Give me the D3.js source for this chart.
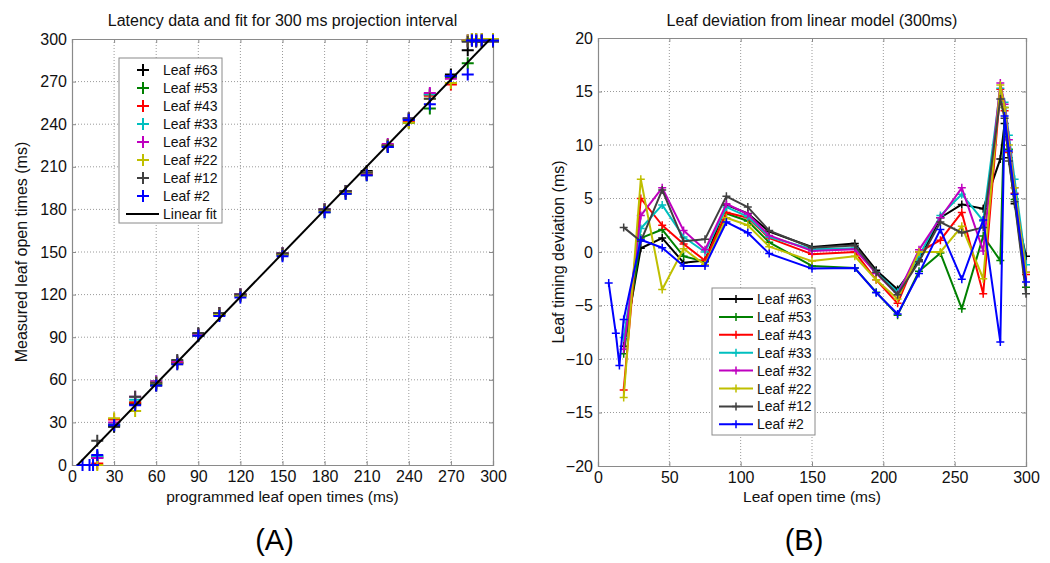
<!DOCTYPE html>
<html><head><meta charset="utf-8">
<script src="https://cdn.jsdelivr.net/npm/d3@7/dist/d3.min.js"></script>
<style>
body{margin:0;background:#fff}
svg{font-family:"Liberation Sans",Arial,Helvetica,sans-serif}
</style></head>
<body>
<svg id="chart" width="1050" height="563"></svg>
<script>
// ---------- DATA ----------
const leafNames = ["Leaf #63","Leaf #53","Leaf #43","Leaf #33","Leaf #32","Leaf #22","Leaf #12","Leaf #2"];
const leafColors = ["#000000","#008000","#ff0000","#00bfbf","#bf00bf","#bfbf00","#404040","#0000ff"];

// programmed leaf open times (ms)
const xTimes = [18,30,45,60,75,90,105,120,150,180,195,210,225,240,255,270,282,285,288,292,300];
const xTimesLeaf2 = [7.5,12.5,15,18,30,45,60,75,90,105,120,150,180,195,210,225,240,255,270,282,285,288,292,300];

// Panel A: measured leaf open times (ms)
const measured63 = [6,27,43,56,72,92,107,120,149,180,193,207,225,244,261,275,292,299,299,298,300];
const measured53 = [5,28,44,57,72,91,106,119,148,178,191,204,224,241,251,273,283,300,299,299,299];
const measured43 = [1,32,44,58,72,92,106,120,149,180,192,205,225,242,260,268,299,300,299,299,300];
const measured33 = [6,29,46,59,73,92,106,120,149,180,193,206,225,244,261,274,299,300,300,300,300];
const measured32 = [5,30,48,59,73,92,107,120,149,180,193,206,226,244,262,272,299,300,300,300,300];
const measured22 = [0,33,38,58,71,91,106,119,148,179,192,206,225,241,258,269,299,300,300,300,300];
const measured12 = [17,28,48,58,74,93,107,120,149,180,193,206,225,244,258,274,298,299,298,299,298];
const measured2  = [0,0,0,7,28,42,56,71,91,105,118,147,178,191,204,224,243,254,274,275,299,299,299,299];

// linear fit (measured = slope * programmed + intercept)
const fitSlope = 1.02;
const fitIntercept = -4;

// Panel B: leaf timing deviation from linear model (ms)
const dev63 = [-8.8,0.35,1.3,-1.0,-0.8,4.4,3.6,1.9,0.47,0.8,-1.7,-3.5,-0.75,3.2,4.45,4.05,8.7,12.0,8.8,4.5,-0.4];
const dev53 = [-9.5,1.3,2.1,-0.4,-0.9,3.6,2.9,0.9,-1.3,-1.5,-3.75,-5.9,-1.8,-0.1,-5.3,1.5,-0.8,13.5,9.6,4.9,-3.3];
const dev43 = [-12.9,5.0,2.5,0.75,-0.8,3.7,3.2,1.3,-0.2,0,-2.6,-4.8,0,1.1,3.7,-3.9,15.2,13.2,9.3,5.5,-2.1];
const dev33 = [-8.0,2.2,4.4,1.4,0,4.2,3.3,1.4,0.25,0.35,-1.9,-3.75,-0.4,3.4,5.4,2.9,15.3,14.0,10.9,6.8,-1.2];
const dev32 = [-9.1,3.4,6.0,2.0,0.2,4.5,3.55,1.55,0.1,0.25,-2.0,-4.0,0.2,3.2,6.0,0.1,15.8,13.8,10.5,6.0,-1.9];
const dev22 = [-13.6,6.8,-3.5,0.3,-1.2,3.2,2.5,0.5,-0.85,-0.4,-2.6,-4.4,0,0,2.4,-2.5,15.6,13.5,10.0,6.0,-1.9];
const dev12 = [2.3,1.0,5.8,1.0,1.2,5.2,4.2,2.0,0.4,0.6,-1.9,-4.0,-0.9,2.8,1.8,2.3,14.3,12.5,8.5,4.7,-3.9];
const dev2  = [-2.9,-7.6,-10.6,-6.3,1.15,0.4,-1.3,-1.3,2.8,1.8,-0.15,-1.55,-1.5,-3.8,-5.8,-2.0,2.1,-2.55,3.0,-8.4,12.7,9.45,5.4,-2.8];

// tick labels
const ticksA_x = [0,30,60,90,120,150,180,210,240,270,300];
const ticksA_y = [0,30,60,90,120,150,180,210,240,270,300];
const ticksB_x = [0,50,100,150,200,250,300];
const ticksB_y = [-20,-15,-10,-5,0,5,10,15,20];

const titleA = "Latency data and fit for 300 ms projection interval";
const titleB = "Leaf deviation from linear model (300ms)";
const xLabelA = "programmed leaf open times (ms)";
const yLabelA = "Measured leaf open times (ms)";
const xLabelB = "Leaf open time (ms)";
const yLabelB = "Leaf timing deviation (ms)";

// ---------- BUILD ----------
const measuredSets = [measured63,measured53,measured43,measured33,measured32,measured22,measured12,measured2];
const devSets = [dev63,dev53,dev43,dev33,dev32,dev22,dev12,dev2];
const seriesA = leafNames.map((n,i)=>({name:n,color:leafColors[i],
  pts:(i===7?xTimesLeaf2:xTimes).map((x,j)=>[x,measuredSets[i][j]])}));
const seriesB = leafNames.map((n,i)=>({name:n,color:leafColors[i],
  pts:(i===7?xTimesLeaf2:xTimes).map((x,j)=>[x,devSets[i][j]])}));

const svg = d3.select("#chart");
const AX = "#8a8a8a", GRID = "#9a9a9a";

function panel(cfg){
  const g = svg.append("g");
  const x = d3.scaleLinear().domain(cfg.xd).range([cfg.l,cfg.r]);
  const y = d3.scaleLinear().domain(cfg.yd).range([cfg.b,cfg.t]);
  // grid
  g.append("g").selectAll("line").data(cfg.xt.slice(1,-1)).join("line")
    .attr("x1",d=>x(d)).attr("x2",d=>x(d)).attr("y1",cfg.t).attr("y2",cfg.b)
    .attr("stroke",GRID).attr("stroke-width",1).attr("stroke-dasharray","1,2");
  g.append("g").selectAll("line").data(cfg.yt.slice(1,-1)).join("line")
    .attr("y1",d=>y(d)).attr("y2",d=>y(d)).attr("x1",cfg.l).attr("x2",cfg.r)
    .attr("stroke",GRID).attr("stroke-width",1).attr("stroke-dasharray","1,2");
  // axes
  const xa = g.append("g").attr("transform",`translate(0,${cfg.b})`)
    .call(d3.axisBottom(x).tickValues(cfg.xt).tickSize(-4).tickPadding(6).tickFormat(d3.format("d")));
  const ya = g.append("g").attr("transform",`translate(${cfg.l},0)`)
    .call(d3.axisLeft(y).tickValues(cfg.yt).tickSize(-4).tickPadding(cfg.ypad).tickFormat(d3.format("d")));
  g.append("g").attr("transform",`translate(0,${cfg.t})`)
    .call(d3.axisTop(x).tickValues(cfg.xt).tickSize(-4).tickFormat(""));
  g.append("g").attr("transform",`translate(${cfg.r},0)`)
    .call(d3.axisRight(y).tickValues(cfg.yt).tickSize(-4).tickFormat(""));
  g.selectAll(".domain").attr("stroke",AX).attr("stroke-width",1.2);
  g.selectAll(".tick line").attr("stroke",AX);
  [xa,ya].forEach(a=>a.selectAll("text").attr("font-size",16).attr("fill","#111")
    .attr("font-family",'"Liberation Sans",Arial,sans-serif'));
  xa.selectAll("text").attr("dy","0.71em");
  // titles & labels
  g.append("text").attr("x",(cfg.l+cfg.r)/2).attr("y",26).attr("text-anchor","middle")
    .attr("font-size",16).attr("fill","#111").text(cfg.title);
  g.append("text").attr("x",(cfg.l+cfg.r)/2).attr("y",502).attr("text-anchor","middle")
    .attr("font-size",15.5).attr("fill","#111").text(cfg.xl);
  g.append("text").attr("transform",`translate(${cfg.ylx},${(cfg.t+cfg.b)/2}) rotate(-90)`)
    .attr("text-anchor","middle").attr("font-size",16).attr("fill","#111").text(cfg.yl);
  g.append("text").attr("x",(cfg.l+cfg.r)/2 - 8).attr("y",550).attr("text-anchor","middle")
    .attr("font-size",29).attr("fill","#000").text(cfg.tag);
  return {g,x,y};
}

const plus = s => `M${-s},0H${s}M0,${-s}V${s}`;

// ---- Panel A ----
const A = panel({l:72,r:493,t:39,b:465,xd:[0,300],yd:[0,300],xt:ticksA_x,yt:ticksA_y,
  title:titleA,xl:xLabelA,yl:yLabelA,ylx:27,ypad:5,tag:"(A)"});
svg.append("clipPath").attr("id","clipA").append("rect")
  .attr("x",72).attr("y",39).attr("width",421).attr("height",426);
seriesA.forEach(s=>{
  A.g.append("g").selectAll("path").data(s.pts).join("path")
    .attr("d",plus(6)).attr("transform",d=>`translate(${A.x(d[0])},${A.y(d[1])})`)
    .attr("stroke",s.color).attr("stroke-width",2).attr("fill","none");
});
A.g.append("line").attr("clip-path","url(#clipA)")
  .attr("x1",A.x(0)).attr("y1",A.y(fitIntercept))
  .attr("x2",A.x(300)).attr("y2",A.y(fitSlope*300+fitIntercept))
  .attr("stroke","#000").attr("stroke-width",2);
// legend A
const lgA = A.g.append("g");
lgA.append("rect").attr("x",119).attr("y",58).attr("width",103).attr("height",165)
  .attr("fill","#fff").attr("stroke","#8a8a8a").attr("stroke-width",1);
leafNames.forEach((n,i)=>{
  const yy = 70 + i*18;
  lgA.append("path").attr("d",plus(6)).attr("transform",`translate(143,${yy})`)
    .attr("stroke",leafColors[i]).attr("stroke-width",2).attr("fill","none");
  lgA.append("text").attr("x",163).attr("y",yy+5).attr("font-size",14).attr("fill","#111").text(n);
});
lgA.append("line").attr("x1",126).attr("x2",159).attr("y1",214).attr("y2",214)
  .attr("stroke","#000").attr("stroke-width",2);
lgA.append("text").attr("x",163).attr("y",219).attr("font-size",14).attr("fill","#111").text("Linear fit");

// ---- Panel B ----
const B = panel({l:598,r:1026,t:38,b:466,xd:[0,300],yd:[-20,20],xt:ticksB_x,yt:ticksB_y,
  title:titleB,xl:xLabelB,yl:yLabelB,ylx:564,ypad:5,tag:"(B)"});
const line = d3.line().x(d=>B.x(d[0])).y(d=>B.y(d[1]));
seriesB.forEach(s=>{
  B.g.append("path").attr("d",line(s.pts)).attr("fill","none")
    .attr("stroke",s.color).attr("stroke-width",2).attr("stroke-linejoin","round");
  B.g.append("g").selectAll("path").data(s.pts).join("path")
    .attr("d",plus(4)).attr("transform",d=>`translate(${B.x(d[0])},${B.y(d[1])})`)
    .attr("stroke",s.color).attr("stroke-width",1.5).attr("fill","none");
});
// legend B
const lgB = B.g.append("g");
lgB.append("rect").attr("x",712).attr("y",288).attr("width",103).attr("height",147)
  .attr("fill","#fff").attr("stroke","#8a8a8a").attr("stroke-width",1);
leafNames.forEach((n,i)=>{
  const yy = 299 + i*17.9;
  lgB.append("line").attr("x1",719).attr("x2",753).attr("y1",yy).attr("y2",yy)
    .attr("stroke",leafColors[i]).attr("stroke-width",2);
  lgB.append("path").attr("d",plus(4)).attr("transform",`translate(736,${yy})`)
    .attr("stroke",leafColors[i]).attr("stroke-width",1.5).attr("fill","none");
  lgB.append("text").attr("x",757).attr("y",yy+5).attr("font-size",14).attr("fill","#111").text(n);
});
</script>
</body></html>
